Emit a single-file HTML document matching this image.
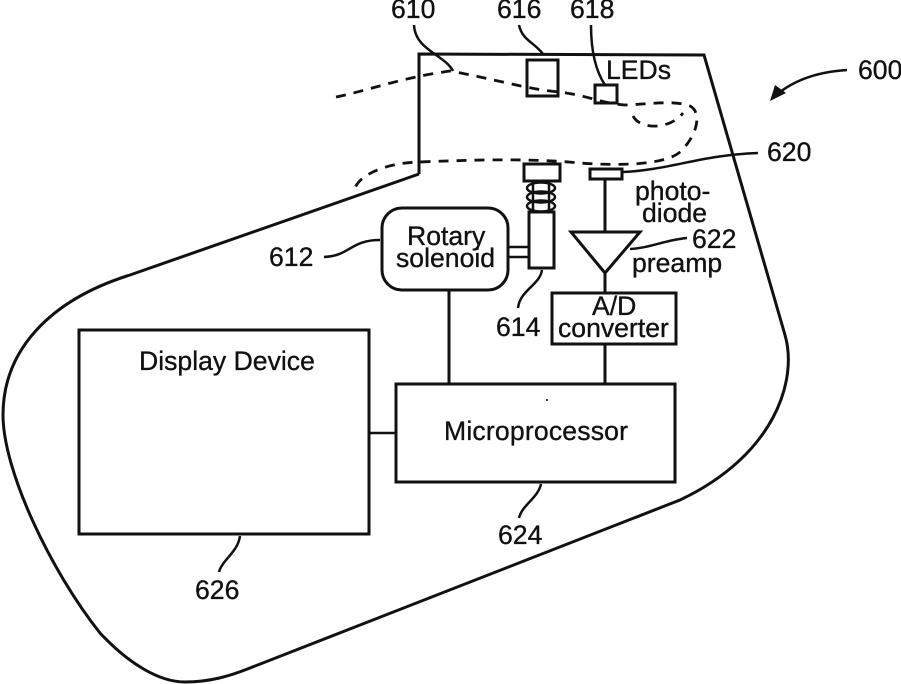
<!DOCTYPE html>
<html><head><meta charset="utf-8"><style>
html,body{margin:0;padding:0;background:#fff;width:901px;height:684px;overflow:hidden}
svg{display:block}
text{font-family:"Liberation Sans",sans-serif;font-size:26.6px;fill:#111;stroke:#111;stroke-width:.35px}
.s{fill:none;stroke:#111;stroke-width:3}
.t{fill:none;stroke:#111;stroke-width:2.5}
.d{fill:none;stroke:#111;stroke-width:2.8;stroke-dasharray:10 8}
</style></head><body>
<svg width="901" height="684" viewBox="0 0 901 684" xmlns="http://www.w3.org/2000/svg">
<path class="s" d="M419 174 L419 54 L704 55 L785 335 C798 380 775 455 680 500 L250 668 C230 676 210 682 185 682 C160 682 130 665 100 633 C50 570 3 470 3 415 C3 350 50 300 130 275 L419 174"/>
<path class="d" d="M336 97 C370 90 400 78 450 71 C490 78 530 90 560 92 C590 96 600 103 625 105 C650 104 675 100 690 106 C702 112 698 135 680 152 C665 165 620 166 580 163 C530 158 470 160 419 162 C385 163 360 175 355 188"/>
<path class="d" d="M633 116 C640 130 670 130 683 113"/>
<rect class="s" x="527" y="60" width="31" height="36"/>
<rect class="s" x="595" y="85" width="22" height="18"/>
<path class="t" d="M414 25 C415 50 445 55 453 71"/>
<path class="t" d="M519 25 C522 40 535 43 543 54"/>
<path class="t" d="M591 25 C591 50 595 70 605 85"/>
<path class="t" d="M623 172 C670 170 700 155 758 153"/>
<path class="t" d="M847 70 C815 72 790 82 773 98"/>
<polygon points="770,101 775,85 786,93" fill="#111"/>
<rect class="s" x="524" y="164" width="36" height="17"/>
<ellipse class="t" cx="541" cy="188" rx="14" ry="5.5"/>
<ellipse class="t" cx="541" cy="197" rx="14" ry="5.5"/>
<ellipse class="t" cx="541" cy="206" rx="14" ry="5.5"/>
<path class="t" d="M533 182V212M549 182V212"/>
<rect x="529" y="212" width="25" height="56" class="s" fill="#fff"/>
<rect class="s" x="590" y="169" width="32" height="10"/>
<rect class="s" x="382" y="208" width="126" height="82" rx="20" ry="20"/>
<path class="t" d="M508 247H529M508 257H529"/>
<path class="t" d="M324 257 C350 256 350 240 380 240"/>
<path class="t" d="M542 270 C540 285 520 290 518 308"/>
<path class="s" d="M605 180V231"/>
<polygon class="s" points="571,232 640,232 605,273"/>
<path class="t" d="M630 249 C650 248 665 240 687 238"/>
<path class="s" d="M605 273V293"/>
<rect class="s" x="552" y="293" width="124" height="51"/>
<path class="s" d="M449 290V383M605 344V384"/>
<rect class="s" x="396" y="384" width="279" height="98"/>
<path class="t" d="M369 433H396"/>
<rect class="s" x="79" y="330" width="290" height="204"/>
<path class="t" d="M541 484 C538 498 522 505 519 518"/>
<path class="t" d="M240 536 C238 552 222 560 219 572"/>
<circle cx="547" cy="400" r="1" fill="#111"/>
<text x="391" y="18">610</text>
<text x="497" y="18">616</text>
<text x="570" y="18">618</text>
<text x="606" y="79">LEDs</text>
<text x="858" y="79">600</text>
<text x="767" y="161">620</text>
<text x="635" y="200">photo-</text>
<text x="642" y="222">diode</text>
<text x="692" y="248">622</text>
<text x="632" y="272">preamp</text>
<text x="269" y="266">612</text>
<text x="407" y="245">Rotary</text>
<text x="396" y="267">solenoid</text>
<text x="496" y="336">614</text>
<text x="592" y="315">A/D</text>
<text x="558" y="337">converter</text>
<text x="139" y="370">Display Device</text>
<text x="444" y="440" textLength="184">Microprocessor</text>
<text x="498" y="544">624</text>
<text x="195" y="599">626</text>
</svg>
</body></html>
